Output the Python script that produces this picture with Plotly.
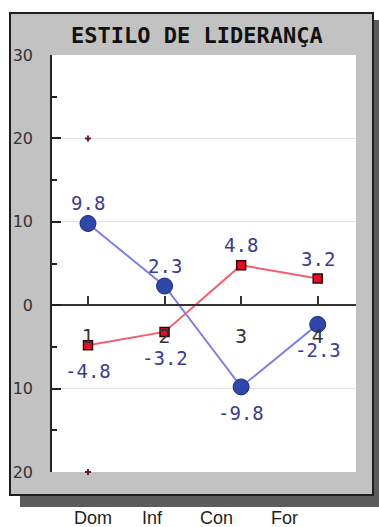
import plotly.graph_objects as go

# ---- data ----
x_idx = [1, 2, 3, 4]
x_tick_text = ["1", "2", "3", "4"]
categories = ["Dom", "Inf", "Con", "For"]
blue_values = [9.8, 2.3, -9.8, -2.3]
red_values = [-4.8, -3.2, 4.8, 3.2]
marker_x = [1, 1]
marker_y = [20, -20]
y_tickvals = [30, 20, 10, 0, -10, -20]
y_ticktext = ["30", "20", "10", "0", "10", "20"]
title_text = "ESTILO DE LIDERANÇA"

# ---- layout helpers (pixel -> paper) ----
W, H = 379, 527
L, R, T, B = 52, 356, 55, 472
def px(x):
    return (x - L) / (R - L)
def py(y):
    return (B - y) / (B - T)

mono = "DejaVu Sans Mono"
label_font = dict(family=mono, size=19, color="#3c3c8e")

fig = go.Figure()

fig.add_trace(go.Scatter(
    x=x_idx, y=blue_values, mode="lines+markers",
    line=dict(color="#8080e0", width=2),
    marker=dict(symbol="circle", size=16, color="#2f47a8",
                line=dict(color="#1c2a78", width=1)),
    cliponaxis=False, hoverinfo="skip", showlegend=False))

fig.add_trace(go.Scatter(
    x=x_idx, y=red_values, mode="lines+markers",
    line=dict(color="#f06070", width=2),
    marker=dict(symbol="square", size=9, color="#e01028",
                line=dict(color="#3a0008", width=1.5)),
    cliponaxis=False, hoverinfo="skip", showlegend=False))

fig.add_trace(go.Scatter(
    x=marker_x, y=marker_y, mode="markers",
    marker=dict(symbol="cross", size=5, color="#6a1a2a"),
    cliponaxis=False, hoverinfo="skip", showlegend=False))

shapes = [
    # shadow
    dict(type="rect", xref="paper", yref="paper", layer="below",
         x0=px(20), x1=px(390), y0=py(507), y1=py(20),
         fillcolor="#5c5c5c", line=dict(width=0)),
    # gray box
    dict(type="rect", xref="paper", yref="paper", layer="below",
         x0=px(10), x1=px(373), y0=py(495), y1=py(13),
         fillcolor="#c2c2c2", line=dict(color="#1e1e1e", width=2)),
    # white plot area
    dict(type="rect", xref="paper", yref="paper", layer="below",
         x0=0, x1=1, y0=0, y1=1,
         fillcolor="#ffffff", line=dict(width=0)),
]

annotations = [
    dict(text=title_text, xref="paper", yref="paper", x=px(197), y=py(35),
         xanchor="center", yanchor="middle", showarrow=False,
         font=dict(family=mono, size=22, color="#111111", weight="bold")),
]
# data value labels
for series in (blue_values, red_values):
    for xv, yv in zip(x_idx, series):
        annotations.append(dict(text=f"{yv:.1f}", x=xv, y=yv, xref="x", yref="y",
                                xanchor="center", yanchor="middle", showarrow=False,
                                yshift=20 if yv >= 0 else -26, font=label_font))
cat_px = [93, 152, 216, 284]
for c, cx in zip(categories, cat_px):
    annotations.append(dict(text=c, xref="paper", yref="paper", x=px(cx), y=py(518),
                            xanchor="center", yanchor="middle", showarrow=False,
                            font=dict(family="Liberation Sans", size=18, color="#222222")))

fig.update_layout(
    width=W, height=H,
    margin=dict(l=L, r=W - R, t=T, b=H - B, pad=0, autoexpand=False),
    paper_bgcolor="#ffffff", plot_bgcolor="rgba(0,0,0,0)",
    shapes=shapes, annotations=annotations,
    xaxis=dict(range=[0.53, 4.5], anchor="free", position=0.4, automargin=False,
               showline=True, linecolor="#333333", linewidth=1.5,
               ticks="inside", ticklen=8, tickcolor="#333333", tickwidth=1.5,
               tickvals=x_idx, ticktext=x_tick_text, ticklabelstandoff=14,
               tickfont=dict(family="DejaVu Sans", size=19, color="#333333"),
               showgrid=False, zeroline=False, fixedrange=True),
    yaxis=dict(range=[-20, 30], showline=True, linecolor="#222222", linewidth=1.5,
               automargin=False,
               ticks="inside", ticklen=9, tickcolor="#222222", tickwidth=1.5,
               tickvals=y_tickvals, ticktext=y_ticktext, ticklabelstandoff=14,
               tickfont=dict(family="DejaVu Sans", size=16, color="#333333"),
               minor=dict(dtick=5, ticks="inside", ticklen=5, tickcolor="#222222",
                          tickwidth=1.5, showgrid=False),
               showgrid=True, gridcolor="#e2e2e2", gridwidth=1,
               zeroline=False, fixedrange=True),
)

fig.write_html("out.html", config={"displayModeBar": False},
               post_script="document.body.style.margin='0';document.body.style.overflow='hidden';")
